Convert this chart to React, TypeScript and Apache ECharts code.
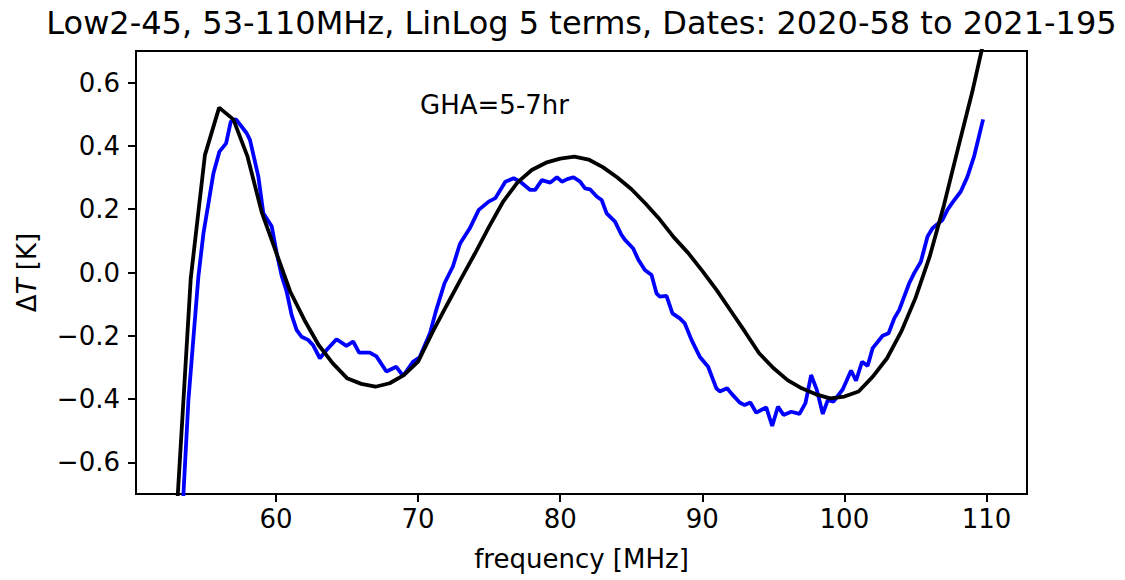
import React, { useEffect, useRef } from 'react';
import * as echarts from 'echarts';

const titleText = 'Low2-45, 53-110MHz, LinLog 5 terms, Dates: 2020-58 to 2021-195';
const annotationText = 'GHA=5-7hr';
const annotationAt = [70, 0.5];
const xLabel = 'frequency [MHz]';
const xTicks = [60, 70, 80, 90, 100, 110];
const yTicks = [-0.6, -0.4, -0.2, 0, 0.2, 0.4, 0.6];

// black curve: LinLog 5-term fit residual model (1 MHz samples)
const fitFreq = [53, 54, 55, 56, 57, 58, 59, 60, 61, 62, 63, 64, 65, 66, 67, 68, 69, 70, 71, 72, 73, 74, 75, 76, 77, 78, 79, 80, 81, 82, 83, 84, 85, 86, 87, 88, 89, 90, 91, 92, 93, 94, 95, 96, 97, 98, 99, 100, 101, 102, 103, 104, 105, 106, 107, 108, 109, 110];
const fitVal = [-0.77, -0.02, 0.371, 0.521, 0.484, 0.366, 0.19, 0.065, -0.06, -0.15, -0.229, -0.287, -0.334, -0.352, -0.361, -0.35, -0.324, -0.282, -0.19, -0.105, -0.022, 0.06, 0.145, 0.225, 0.285, 0.324, 0.347, 0.36, 0.366, 0.357, 0.333, 0.301, 0.264, 0.218, 0.168, 0.111, 0.062, 0.005, -0.055, -0.121, -0.187, -0.255, -0.302, -0.34, -0.366, -0.385, -0.398, -0.392, -0.376, -0.329, -0.271, -0.187, -0.081, 0.05, 0.212, 0.393, 0.571, 0.77];

// blue curve: measured residuals
const dataFreq = [53.2, 53.49, 53.84, 54.2, 54.54, 54.9, 55.25, 55.6, 56.02, 56.49, 56.82, 57.19, 57.94, 58.17, 58.76, 59.11, 59.7, 60.05, 60.4, 60.75, 61.1, 61.45, 61.8, 62.26, 62.6, 63.09, 63.56, 64.26, 64.96, 65.43, 65.85, 66.6, 67.07, 67.77, 68.47, 68.94, 69.64, 70.11, 70.85, 71.28, 71.86, 72.45, 72.92, 73.0, 73.62, 74.27, 74.97, 75.44, 76.14, 76.73, 77.19, 77.89, 78.24, 78.71, 79.3, 79.77, 80.12, 80.5, 80.94, 81.4, 81.75, 82.1, 82.57, 82.92, 83.27, 83.86, 84.3, 84.56, 85.14, 85.5, 85.96, 86.43, 86.78, 87.01, 87.48, 87.9, 88.42, 88.77, 89.24, 89.82, 90.41, 90.99, 91.23, 91.75, 92.04, 92.63, 92.98, 93.38, 93.8, 94.5, 94.92, 95.32, 95.72, 96.26, 96.84, 97.26, 97.66, 98.06, 98.48, 98.83, 99.23, 99.89, 100.47, 100.82, 101.24, 101.64, 101.99, 102.69, 103.11, 103.51, 103.86, 104.56, 104.91, 105.38, 105.85, 106.2, 106.9, 107.25, 107.6, 108.19, 108.66, 109.12, 109.76];
const dataVal = [-0.95, -0.698, -0.403, -0.202, -0.013, 0.125, 0.219, 0.314, 0.382, 0.408, 0.477, 0.484, 0.44, 0.419, 0.303, 0.187, 0.146, 0.061, -0.01, -0.06, -0.134, -0.181, -0.203, -0.213, -0.229, -0.271, -0.245, -0.211, -0.232, -0.218, -0.253, -0.253, -0.265, -0.313, -0.298, -0.327, -0.282, -0.268, -0.19, -0.118, -0.034, 0.019, 0.087, 0.095, 0.138, 0.198, 0.224, 0.235, 0.287, 0.298, 0.287, 0.261, 0.261, 0.292, 0.284, 0.301, 0.287, 0.295, 0.301, 0.287, 0.266, 0.263, 0.24, 0.229, 0.187, 0.161, 0.12, 0.103, 0.076, 0.04, 0.008, -0.008, -0.066, -0.076, -0.074, -0.129, -0.145, -0.161, -0.213, -0.266, -0.298, -0.366, -0.376, -0.366, -0.382, -0.411, -0.419, -0.411, -0.443, -0.426, -0.485, -0.424, -0.45, -0.44, -0.447, -0.413, -0.324, -0.371, -0.447, -0.403, -0.408, -0.369, -0.31, -0.342, -0.282, -0.295, -0.239, -0.2, -0.192, -0.145, -0.118, -0.034, -0.002, 0.034, 0.114, 0.14, 0.166, 0.198, 0.221, 0.256, 0.303, 0.366, 0.484];

const FONT = 'DejaVu Sans';

export default function App() {
  const ref = useRef<HTMLDivElement>(null);
  useEffect(() => {
    if (!ref.current) return;
    const chart = echarts.init(ref.current, null, { renderer: 'svg' });
    const fmt = (v: number) => {
      const s = Math.abs(v) < 1e-9 ? '0.0' : v.toFixed(1);
      return s.replace('-', '\u2212');
    };
    chart.setOption({
      animation: false,
      backgroundColor: '#fff',
      grid: {
        left: 136, right: 98, top: 51, bottom: 86,
        show: true, borderColor: '#000', borderWidth: 2, backgroundColor: 'transparent',
      },
      xAxis: {
        type: 'value', min: 50.15, max: 112.85,
        name: xLabel, nameLocation: 'middle', nameGap: 52,
        nameTextStyle: { fontFamily: FONT, fontSize: 26, color: '#000' },
        axisLine: { show: false, onZero: false },
        splitLine: { show: false },
        axisTick: { show: true, inside: false, length: 8, lineStyle: { color: '#000', width: 2 }, customValues: xTicks },
        axisLabel: { fontFamily: FONT, fontSize: 26, color: '#000', margin: 12, customValues: xTicks },
      },
      yAxis: {
        type: 'value', min: -0.7, max: 0.7,
        name: '{d|\u0394}{t|T} [K]', nameLocation: 'middle', nameGap: 96, nameRotate: 90,
        nameTextStyle: {
          fontFamily: FONT, fontSize: 26, color: '#000',
          rich: {
            d: { fontFamily: FONT, fontSize: 26, color: '#000' },
            t: { fontFamily: FONT, fontSize: 26, color: '#000', fontStyle: 'italic' },
          },
        },
        axisLine: { show: false, onZero: false },
        splitLine: { show: false },
        axisTick: { show: true, inside: false, length: 8, lineStyle: { color: '#000', width: 2 }, customValues: yTicks },
        axisLabel: { fontFamily: FONT, fontSize: 26, color: '#000', margin: 16, customValues: yTicks, formatter: fmt },
      },
      series: [
        {
          type: 'line', data: dataFreq.map((f, i) => [f, dataVal[i]]),
          showSymbol: false, symbol: 'none', clip: true,
          lineStyle: { color: '#0000ff', width: 3.8 }, z: 2,
        },
        {
          type: 'line', data: fitFreq.map((f, i) => [f, fitVal[i]]),
          showSymbol: false, symbol: 'none', clip: true,
          lineStyle: { color: '#000000', width: 3.8 }, z: 3,
        },
      ],
    });
    const p = chart.convertToPixel({ gridIndex: 0 }, annotationAt) as number[];
    chart.setOption({
      graphic: [
        {
          type: 'text', x: 581.5, y: 23,
          style: { text: titleText, fontFamily: FONT, fontSize: 32, fill: '#000', align: 'center', verticalAlign: 'middle' },
        },
        {
          type: 'text', x: p[0] + 2, y: p[1] - 9,
          style: { text: annotationText, fontFamily: FONT, fontSize: 26, fill: '#000', align: 'left', verticalAlign: 'middle' },
        },
      ],
    });
    return () => chart.dispose();
  }, []);
  return <div ref={ref} style={{ position: 'fixed', left: 0, top: 0, width: 1125, height: 580 }} />;
}
